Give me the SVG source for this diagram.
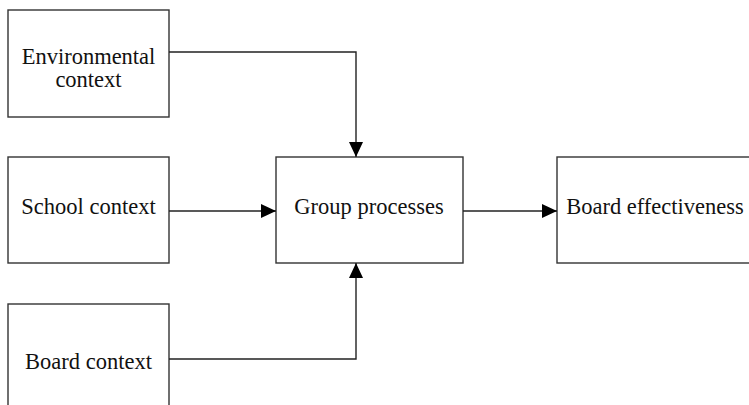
<svg xmlns="http://www.w3.org/2000/svg" width="749" height="405" viewBox="0 0 749 405">
<style>
.box{fill:#fff;stroke:#333;stroke-width:1.4}
.lbl{font-family:"Liberation Serif","Times New Roman",serif;font-size:22.5px;fill:#111;text-anchor:middle}
.con{fill:none;stroke:#222;stroke-width:1.4}
</style>
<defs>
<marker id="ah" markerWidth="15" markerHeight="14" refX="15" refY="7" orient="auto" markerUnits="userSpaceOnUse">
<path d="M0,0 L15,7 L0,14 Z" fill="#000"/>
</marker>
</defs>
<rect width="749" height="405" fill="#fff"/>
<g id="env">
<rect class="box" x="8" y="10" width="161" height="107"/>
<text class="lbl" x="88.5" y="64">Environmental</text>
<text class="lbl" x="88.5" y="87">context</text>
</g>
<g id="school">
<rect class="box" x="8" y="157" width="161" height="106"/>
<text class="lbl" x="88.5" y="214">School context</text>
</g>
<g id="board">
<rect class="box" x="8" y="304" width="161" height="110"/>
<text class="lbl" x="88.5" y="369">Board context</text>
</g>
<g id="group">
<rect class="box" x="276" y="157" width="187" height="106"/>
<text class="lbl" x="369" y="214">Group processes</text>
</g>
<g id="effect">
<rect class="box" x="557" y="157" width="200" height="106"/>
<text class="lbl" x="655" y="214">Board effectiveness</text>
</g>
<g id="connectors">
<polyline class="con" points="169,52 356,52 356,157" marker-end="url(#ah)"/>
<line class="con" x1="169" y1="211" x2="276" y2="211" marker-end="url(#ah)"/>
<polyline class="con" points="169,359 356,359 356,263" marker-end="url(#ah)"/>
<line class="con" x1="463" y1="211" x2="557" y2="211" marker-end="url(#ah)"/>
</g>
</svg>
